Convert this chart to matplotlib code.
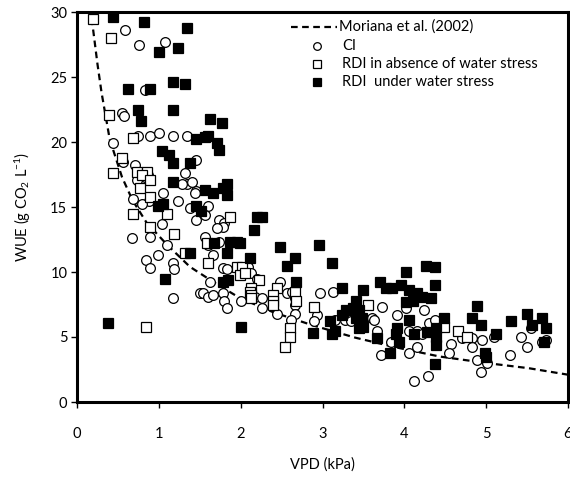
import matplotlib
matplotlib.use("Agg")
import matplotlib.pyplot as plt
from matplotlib.lines import Line2D

plt.rcParams['font.family'] = ['Lato', 'DejaVu Sans']
plt.rcParams['mathtext.default'] = 'regular'

# Moriana et al. (2002) curve
curve_x = [0.18, 0.25, 0.30, 0.40, 0.55, 0.68, 0.85, 1.10, 1.38, 1.70, 1.99,
           2.40, 2.88, 3.40, 3.90, 4.43, 5.00, 5.52, 6.00]
curve_y = [29.5, 26.0, 23.8, 20.2, 17.3, 15.5, 13.8, 12.1, 10.4, 9.1, 8.0,
           6.9, 5.9, 4.95, 4.2, 3.5, 3.0, 2.6, 2.1]

# CI
ci_x = [0.59, 0.76, 1.07, 0.83, 0.55, 0.57, 0.74, 0.89, 1.00, 1.17, 1.35,
        0.44, 0.56, 0.71, 0.83, 0.87, 0.73, 1.32, 1.35, 1.28, 1.45, 1.05,
        0.68, 0.88, 1.23, 0.80, 1.38, 1.46, 1.04, 0.89, 0.67, 1.10, 0.99,
        0.84, 0.89, 1.17, 1.18, 1.17, 1.50,
        1.46, 1.40, 1.44, 1.60, 1.56, 1.73, 1.80, 1.78, 1.71,
        1.56, 1.60, 1.66, 1.74, 1.78, 1.83, 2.09, 2.13, 2.20, 2.48, 1.62,
        1.54, 1.60, 1.66, 1.78, 1.80, 1.83, 2.01, 2.17, 2.26, 2.26, 2.45,
        2.57, 2.63, 2.67, 2.67, 2.66, 2.62, 2.54, 2.93, 2.97,
        3.13, 4.02, 4.24, 3.27, 3.35, 3.60, 3.63, 3.73, 2.90, 3.15, 3.67,
        3.91, 4.06, 4.15, 4.21, 4.30, 4.37, 3.84, 3.72, 4.06, 4.15,
        4.57, 4.55, 4.70, 4.83, 4.83, 4.95, 4.89, 5.01, 5.10, 5.29, 5.43,
        5.50, 5.55, 5.68, 5.73, 4.94, 4.29, 4.12]
ci_y = [28.6, 27.5, 27.7, 24.0, 22.2, 22.0, 20.5, 20.5, 20.7, 20.5, 20.5,
        19.9, 18.5, 18.2, 17.3, 17.5, 17.1, 17.6, 16.8, 16.8, 16.2, 16.1,
        15.6, 15.5, 15.5, 15.2, 14.9, 14.0, 13.7, 12.7, 12.6, 12.1, 11.3,
        10.9, 10.3, 10.7, 10.2, 8.0, 8.4,
        18.6, 16.9, 16.1, 15.1, 14.4, 14.0, 13.8, 13.5, 13.4,
        12.7, 12.1, 11.3, 12.3, 10.3, 10.2, 10.4, 9.9, 9.5, 9.2, 9.2,
        8.4, 8.1, 8.2, 8.4, 7.8, 7.2, 7.8, 8.1, 8.0, 7.2, 6.8,
        8.4, 8.5, 8.0, 7.5, 6.8, 6.3, 4.2, 6.7, 8.4,
        8.5, 7.2, 7.1, 6.3, 6.2, 6.5, 6.3, 7.3, 6.2, 6.3, 5.5,
        6.7, 5.5, 5.5, 5.2, 6.1, 6.3, 4.6, 3.6, 3.8, 4.2,
        4.5, 3.8, 4.9, 4.9, 4.2, 4.8, 3.2, 3.0, 5.0, 3.6, 5.0,
        4.2, 5.7, 4.6, 4.8, 2.3, 2.0, 1.6]

# RDI in absence of water stress
rdi_ok_x = [0.19, 0.41, 0.39, 0.69, 0.55, 0.44, 0.73, 0.85, 0.79, 0.89, 0.77,
            0.89, 1.10, 0.68, 0.89, 1.18, 1.32, 0.84,
            1.87, 1.59, 1.60, 1.96, 2.02, 1.99, 2.05, 2.23, 2.44, 2.13, 2.11,
            2.13, 2.13, 2.39, 2.40, 2.40, 2.66, 2.68, 2.60, 2.60, 2.54, 2.90,
            3.55, 4.49, 4.65, 4.77]
rdi_ok_y = [29.5, 28.0, 22.1, 20.3, 18.8, 17.6, 17.7, 17.7, 17.5, 17.1, 16.5,
            15.8, 14.5, 14.5, 13.5, 12.9, 11.5, 5.8,
            14.2, 12.2, 10.7, 10.4, 10.4, 9.8, 9.9, 9.4, 8.8, 8.8, 8.5,
            8.2, 8.0, 8.2, 7.8, 7.5, 8.5, 7.8, 5.7, 5.0, 4.2, 7.3,
            7.5, 5.8, 5.5, 5.0]

# RDI under water stress
rdi_ws_x = [0.44, 0.82, 1.35, 1.00, 1.23, 0.62, 0.89, 1.17, 1.32, 0.74, 1.17,
            0.78, 1.04, 1.13, 1.17, 1.38, 1.45, 1.17, 0.99, 1.05, 1.46, 1.52,
            1.38, 0.38, 1.07,
            1.62, 1.77, 1.56, 1.60, 1.71, 1.74, 1.56, 1.66, 1.83, 1.78, 1.83,
            2.20, 2.26, 2.16, 1.96, 1.68, 1.83, 1.87, 1.99, 2.48, 2.96, 2.11,
            2.66, 2.57, 1.78, 1.84, 2.68, 2.01, 2.88,
            3.12, 3.24, 3.49, 3.70, 3.78, 3.85, 3.96, 4.02, 4.06, 4.15, 4.21,
            4.27, 4.37, 4.37, 4.10, 4.02, 3.41, 3.29, 3.37, 3.45, 3.24, 3.41,
            3.48, 3.09, 3.15, 3.12, 3.45, 3.49, 3.66, 3.91, 3.90, 4.06, 4.12,
            4.28, 4.39, 3.82, 4.37, 3.94, 4.33,
            4.89, 4.49, 4.83, 4.94, 5.30, 5.50, 5.68, 5.73, 5.56, 4.39, 4.39,
            4.98, 5.00, 5.12, 5.71]
rdi_ws_y = [29.6, 29.2, 28.8, 26.9, 27.2, 24.1, 24.1, 24.6, 24.5, 22.5, 22.5,
            21.6, 19.3, 19.0, 18.4, 18.4, 20.2, 16.9, 15.1, 15.2, 15.1, 14.7,
            11.5, 6.1, 9.5,
            21.8, 21.5, 20.4, 20.5, 19.9, 19.4, 16.3, 16.1, 16.8, 16.5, 15.9,
            14.2, 14.2, 13.2, 12.3, 12.2, 11.5, 12.3, 12.2, 11.9, 12.1, 11.1,
            11.1, 10.5, 9.2, 9.4, 9.2, 5.8, 5.3,
            10.7, 8.8, 8.6, 9.2, 8.8, 8.8, 9.0, 10.0, 8.6, 8.4, 8.1,
            10.5, 10.4, 9.0, 7.8, 7.7, 7.8, 7.1, 7.2, 7.1, 6.7, 6.5,
            6.5, 6.2, 5.5, 5.2, 5.7, 5.8, 4.9, 5.7, 5.2, 6.3, 5.2,
            5.4, 5.0, 3.8, 2.9, 4.6, 8.0,
            7.4, 6.5, 6.5, 5.9, 6.2, 6.8, 6.5, 5.7, 5.9, 5.7, 4.4,
            3.8, 3.5, 5.2, 4.6]

x_ticks = [0, 1, 2, 3, 4, 5, 6]
y_ticks = [0, 5, 10, 15, 20, 25, 30]

fig = plt.figure(figsize=(5.7, 4.78), dpi=100)
ax = fig.add_axes([77 / 570, 1 - 402 / 478, 491 / 570, 390 / 478])

ax.plot(curve_x, curve_y, color='black', lw=1.6, ls=(0, (3, 2)), zorder=2)
ax.plot(ci_x, ci_y, ls='none', marker='o', ms=7, mfc='white', mec='black',
        mew=0.9, zorder=3)
ax.plot(rdi_ok_x, rdi_ok_y, ls='none', marker='s', ms=7, mfc='white',
        mec='black', mew=0.9, zorder=4)
ax.plot(rdi_ws_x, rdi_ws_y, ls='none', marker='s', ms=7, mfc='black',
        mec='black', mew=0.9, zorder=5)

ax.set_xlim(0, 6)
ax.set_ylim(0, 30)
ax.set_xticks(x_ticks)
ax.set_yticks(y_ticks)
for s in ax.spines.values():
    s.set_linewidth(2.2)
ax.tick_params(direction='out', length=4, width=1, labelsize=10.5)
ax.tick_params(axis='x', pad=14)
ax.tick_params(axis='y', pad=3)

ax.set_xlabel('VPD (kPa)', fontsize=10.5, labelpad=12)
ax.set_ylabel('WUE (g CO$_2$ L$^{-1}$)', fontsize=10.5, labelpad=12)

# legend drawn by hand to keep the Excel-like layout
fx = lambda px: px / 570
fy = lambda py: 1 - py / 478
fig.add_artist(Line2D([fx(291), fx(337)], [fy(27), fy(27)], color='black',
                      lw=1.6, ls=(0, (3, 2))))
fig.text(fx(339), fy(27), 'Moriana et al. (2002)', fontsize=10.5, va='center')
leg_rows = [('CI', 'o', 'white', 46), ('RDI in absence of water stress', 's', 'white', 64),
            ('RDI  under water stress', 's', 'black', 82)]
for lab, mk, fc, py in leg_rows:
    fig.add_artist(Line2D([fx(317)], [fy(py)], ls='none', marker=mk, ms=5.5,
                          mfc=fc, mec='black', mew=0.9))
    fig.text(fx(342), fy(py), lab, fontsize=10.5, va='center')

fig.savefig('out.png', dpi=100)
